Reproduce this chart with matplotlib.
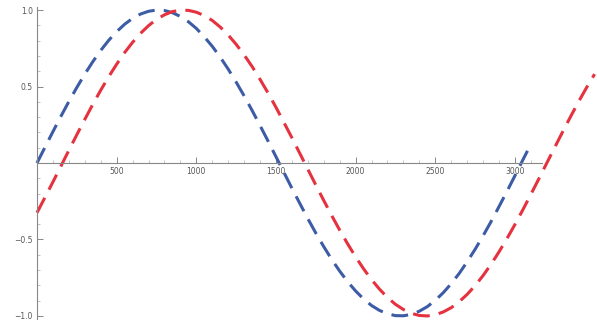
import matplotlib
matplotlib.use("Agg")
import matplotlib.pyplot as plt
from matplotlib.ticker import FixedLocator

# values (x step 50)
blue_x = list(range(0, 3150, 50))
blue_y = [0.0, 0.103, 0.205, 0.305, 0.402, 0.494, 0.581, 0.662, 0.736, 0.802,
          0.859, 0.907, 0.946, 0.974, 0.992, 1.000, 0.997, 0.983, 0.958, 0.924,
          0.880, 0.825, 0.763, 0.692, 0.614, 0.529, 0.439, 0.344, 0.245, 0.144,
          0.041, -0.062, -0.165, -0.265, -0.364, -0.458, -0.547, -0.631, -0.707, -0.776,
          -0.837, -0.889, -0.932, -0.964, -0.986, -0.998, -0.999, -0.990, -0.969, -0.939,
          -0.898, -0.848, -0.789, -0.722, -0.646, -0.564, -0.476, -0.383, -0.285, -0.185,
          -0.083, 0.021, 0.123]

red_x = list(range(0, 3550, 50))
red_y = [-0.325, -0.225, -0.124, -0.021, 0.083, 0.185, 0.285, 0.383, 0.476, 0.564,
         0.646, 0.722, 0.789, 0.848, 0.898, 0.939, 0.969, 0.990, 0.999, 0.998,
         0.986, 0.964, 0.932, 0.889, 0.837, 0.776, 0.707, 0.631, 0.547, 0.458,
         0.364, 0.265, 0.165, 0.062, -0.041, -0.144, -0.245, -0.344, -0.439, -0.529,
         -0.614, -0.692, -0.763, -0.825, -0.880, -0.924, -0.958, -0.983, -0.997, -1.000,
         -0.992, -0.974, -0.946, -0.907, -0.859, -0.802, -0.736, -0.662, -0.581, -0.494,
         -0.402, -0.305, -0.205, -0.103, 0.0, 0.103, 0.205, 0.305, 0.402, 0.494,
         0.581]

x_ticks = [500, 1000, 1500, 2000, 2500, 3000]
y_ticks = [-1.0, -0.5, 0.5, 1.0]
y_labels = ["\u22121.0", "\u22120.5", "0.5", "1.0"]

fig = plt.figure(figsize=(5.97, 3.27), dpi=100)
ax = fig.add_axes([37 / 597, 8 / 327, 560 / 597, 312 / 327])

ax.plot(blue_x, blue_y, color="#3d5ca6", lw=2.2, dashes=(5.5, 3), clip_on=False)
ax.plot(red_x, red_y, color="#e5323e", lw=2.2, dashes=(5.5, 3), clip_on=False)

ax.set_xlim(0, 3515)
ax.set_ylim(-1.02, 1.02)

for s in ["top", "right"]:
    ax.spines[s].set_visible(False)
ax.spines["left"].set_position(("data", 0))
ax.spines["bottom"].set_position(("data", 0))
ax.spines["bottom"].set_bounds(0, 3170)
for s in ["left", "bottom"]:
    ax.spines[s].set_color("#888888")
    ax.spines[s].set_linewidth(0.8)

ax.set_xticks(x_ticks)
ax.set_xticklabels([str(v) for v in x_ticks])
ax.set_yticks(y_ticks)
ax.set_yticklabels(y_labels)
ax.xaxis.set_minor_locator(FixedLocator([v for v in range(100, 3200, 100) if v % 500]))
ax.yaxis.set_minor_locator(FixedLocator([v / 10 for v in range(-10, 11) if v % 5]))
ax.tick_params(which="major", direction="in", length=4, width=0.7, color="#888888",
               labelsize=5.5, labelcolor="#555555", pad=3)
ax.tick_params(which="minor", direction="in", length=2, width=0.5, color="#aaaaaa")

fig.savefig("out.png", dpi=100)
